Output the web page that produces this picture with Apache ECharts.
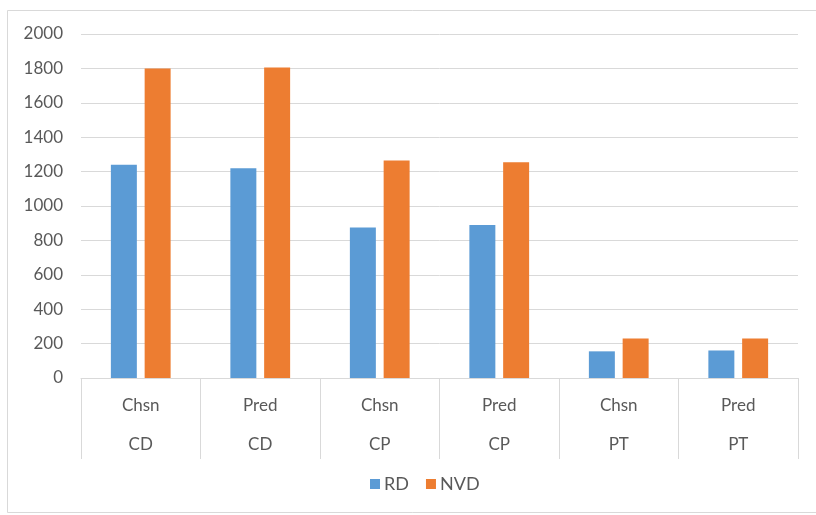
<!DOCTYPE html>
<html>
<head>
<meta charset="utf-8">
<script src="https://cdn.jsdelivr.net/npm/echarts@6/dist/echarts.min.js"></script>
<style>html,body{margin:0;padding:0;background:#fff;}#c{width:816px;height:515px;}</style>
</head>
<body>
<div id="c"></div>
<script>
const methods = ['Chsn', 'Pred', 'Chsn', 'Pred', 'Chsn', 'Pred'];
const groups = ['CD', 'CD', 'CP', 'CP', 'PT', 'PT'];
const rdValues = [1240, 1220, 875, 890, 155, 160];
const nvdValues = [1800, 1805, 1265, 1255, 230, 230];
const yTicks = { min: 0, max: 2000, interval: 200 };

const categories = methods.map((m, i) => m + '|' + groups[i]);
const chart = echarts.init(document.getElementById('c'));
const font = 'Lato, "Open Sans", sans-serif';
chart.setOption({
  animation: false,
  backgroundColor: '#fff',
  graphic: [{
    type: 'rect', shape: { x: 7.5, y: 10.5, width: 900, height: 502 },
    style: { fill: 'none', stroke: '#d9d9d9', lineWidth: 1 }, silent: true
  }],
  grid: { left: 81, right: 18, top: 34, bottom: 137 },
  legend: {
    data: ['RD', 'NVD'], bottom: 17, left: 365,
    itemWidth: 10, itemHeight: 10, itemGap: 17, icon: 'rect',
    textStyle: { fontFamily: font, fontSize: 18, color: '#595959', padding: [0, 0, 0, -1] }
  },
  xAxis: {
    type: 'category', data: categories,
    axisLine: { lineStyle: { color: '#d9d9d9' } },
    axisTick: { show: true, length: 81, lineStyle: { color: '#d9d9d9' } },
    axisLabel: {
      margin: 8, interval: 0,
      formatter: v => { const p = v.split('|'); return '{a|' + p[0] + '}\n{a|' + p[1] + '}'; },
      rich: { a: { fontFamily: font, fontSize: 17, color: '#595959', lineHeight: 39 } }
    }
  },
  yAxis: {
    type: 'value', min: yTicks.min, max: yTicks.max, interval: yTicks.interval,
    axisLine: { show: false }, axisTick: { show: false },
    splitLine: { lineStyle: { color: '#d9d9d9' } },
    axisLabel: { fontFamily: font, fontSize: 17, color: '#595959', margin: 18, formatter: v => String(v) }
  },
  series: [
    { name: 'RD', type: 'bar', data: rdValues, itemStyle: { color: '#5B9BD5' }, barGap: '30%', barCategoryGap: '50%' },
    { name: 'NVD', type: 'bar', data: nvdValues, itemStyle: { color: '#ED7D31' }, barGap: '30%', barCategoryGap: '50%' }
  ]
});
</script>
</body>
</html>
